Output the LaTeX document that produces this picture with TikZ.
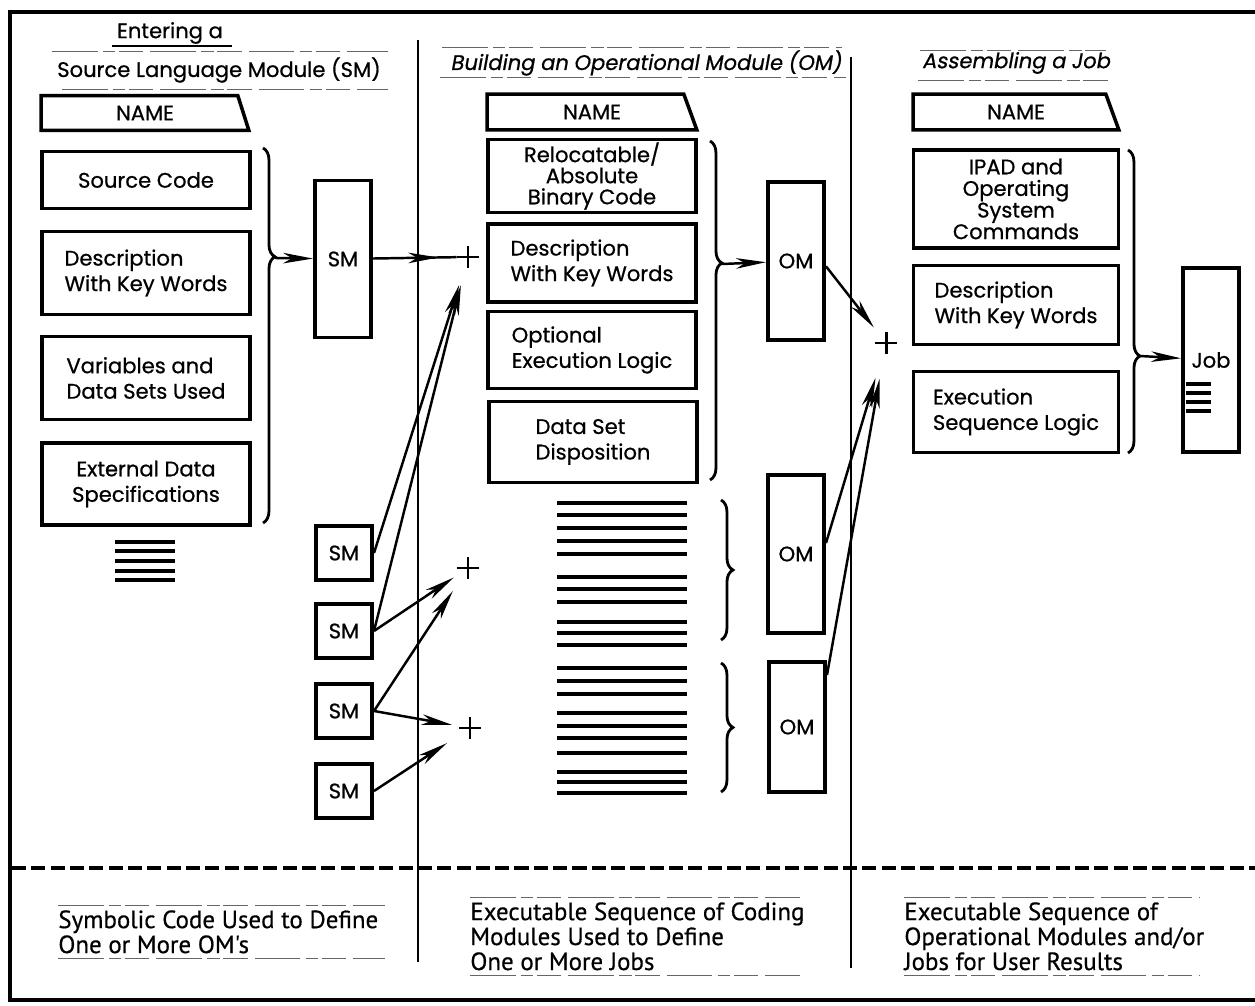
\documentclass[tikz,border=0pt]{standalone}
\usepackage{fontspec}
\setmainfont{Poppins}[FakeBold=0.7]
\newfontfamily\slantfont{Poppins}[FakeSlant=0.18, FakeBold=0.7]
\newfontfamily\notefont{PT Sans}[FakeBold=0.5]
\usetikzlibrary{arrows.meta}
\usetikzlibrary{calc, decorations.markings, decorations.pathreplacing}
\tikzset{
    tipat/.style={
        decoration={
            markings,
            mark= at position #1 with {\arrow{Stealth[length=17pt, width=6pt, inset=5pt]}},
        },
        postaction={decorate}
    },
    tipat/.default=0.5
}
\tikzset{
    modbox/.style={draw, line width=2pt, rectangle, inner sep=0pt, minimum width=4.16cm,
        align=center, font=\fontsize{12}{14.5}\selectfont},
    tallbox/.style={draw, line width=2pt, rectangle, inner sep=0pt, minimum width=1.13cm,
        font=\fontsize{12}{14.5}\selectfont},
    namebox/.style={rectangle, minimum width=4.14cm, minimum height=0.68cm, inner sep=0pt,
        font=\fontsize{12}{14.5}\selectfont},
    nameedge/.style={line width=2pt, line join=miter},
    junction/.style={rectangle, minimum size=0.44cm, inner sep=0pt,
        path picture={\draw[line width=1.7pt] (path picture bounding box.north) -- (path picture bounding box.south)
            (path picture bounding box.west) -- (path picture bounding box.east);}},
    flow/.style={line width=1.4pt, -{Stealth[length=17pt, width=6pt, inset=5pt]}},
    feed/.style={line width=1.4pt},
    curl/.style args={#1 #2}{line width=1.6pt, decorate, decoration={brace, amplitude=#1, aspect=#2}},
    hatch/.style={line width=2pt},
    guide/.style={line width=0.45pt, black!60, dash pattern=on 26pt off 3pt on 7pt off 2pt on 14pt off 4pt},
    title/.style={font=\fontsize{12}{14.5}\selectfont},
    note/.style={align=left, anchor=north west, inner sep=0pt, font=\notefont\fontsize{14.2}{14.2}\selectfont}
}

\begin{document}
\begin{tikzpicture}[x=0.02cm, y=-0.02cm]
    \useasboundingbox (0,0) rectangle (1255,1006);
    % frame, column rules and the dashed separator
    \draw[line width=2.2pt] (1255,12) -- (10,12) -- (10,1000) -- (1255,1000);
    \draw[line width=1.6pt] (418,40) -- (418,962);
    \draw[line width=1.6pt] (851,57) -- (851,968);
    \draw[line width=2.3pt, dash pattern=on 8pt off 3pt] (12,868) -- (1255,868);

    % column titles
    \node[title] (enter) at (170,33) {Entering a};
    \node[title] (slm) at (219,70) {Source Language Module (SM)};
    \node[title, font=\slantfont\fontsize{12}{14.5}\selectfont] (bom) at (646,63) {Building an Operational Module (OM)};
    \node[title, font=\slantfont\fontsize{12}{14.5}\selectfont] (asm) at (1016,63) {Assembling a Job};
    \draw[line width=0.8pt] (112,46) -- (232,46);
    \draw[guide] (52,51) -- (388,51);
    \draw[guide] (62,89) -- (388,89);
    \draw[guide] (442,47) -- (842,47);
    \draw[guide] (440,77) -- (846,77);
    \draw[guide] (920,50) -- (1106,50);
    \draw[guide] (918,80) -- (1112,80);

    % source language module
    \node[namebox] (nameL) at (145,113) {NAME};
    \draw[nameedge] (nameL.north west) -- ($(nameL.north east)+(-11,0)$) -- (nameL.south east) -- (nameL.south west) -- cycle;
    \node[modbox, minimum height=1.14cm] (srcL) at (146,180) {Source Code};
    \node[modbox, minimum height=1.66cm, align=left] (descL) at (146,273) {Description\\With Key Words};
    \node[modbox, minimum height=1.66cm, align=left] (varsL) at (146,378) {Variables and\\Data Sets Used};
    \node[modbox, minimum height=1.64cm] (extL) at (146,484) {External Data\\Specifications};
    \foreach \y in {542,551,561,571,580} \draw[hatch] (115,\y) -- (175,\y);
    \draw[curl={6.8pt 0.29}] (263,148) -- (263,523);
    \coordinate (tipL) at (275,258);

    \node[tallbox, minimum height=3.14cm] (smT) at (343,259) {SM};
    \node[tallbox, minimum height=1.08cm] (smA) at (344,553) {SM};
    \node[tallbox, minimum height=1.08cm] (smB) at (344,631) {SM};
    \node[tallbox, minimum height=1.08cm] (smC) at (344,711) {SM};
    \node[tallbox, minimum height=1.08cm] (smD) at (344,791) {SM};

    \node[junction] (j1) at (468,257) {};
    \node[junction] (j2) at (468,568) {};
    \node[junction] (j3) at (470,728) {};
    \node[junction] (j4) at (886,343) {};

    % operational module
    \node[namebox, minimum height=0.7cm, minimum width=4.18cm] (nameM) at (592,112) {NAME};
    \draw[nameedge] (nameM.north west) -- ($(nameM.north east)+(-13,0)$) -- (nameM.south east) -- (nameM.south west) -- cycle;
    \node[modbox, minimum height=1.46cm, font=\fontsize{12}{12}\selectfont] (relM) at (592,176) {Relocatable/\\Absolute\\Binary Code};
    \node[modbox, minimum height=1.56cm, align=left] (descM) at (592,263) {Description\\With Key Words};
    \node[modbox, minimum height=1.54cm, align=left] (optM) at (592,350) {Optional\\Execution Logic};
    \node[modbox, minimum height=1.62cm, align=left] (dsdM) at (593,442) {Data Set\\Disposition};
    \foreach \y in {503,515,528,541,554,577,589,602,622,633,645,668,681,694,713,726,738,753,772,782,793}
        \draw[hatch] (557,\y) -- (687,\y);
    \draw[curl={6.8pt 0.36}] (710,141) -- (710,480);
    \draw[curl={6.8pt 0.5}] (721,500) -- (721,640);
    \draw[curl={6.8pt 0.5}] (721,663) -- (721,792);
    \coordinate (tipM) at (722,264);

    \node[tallbox, minimum height=3.16cm] (om1) at (796,261) {OM};
    \node[tallbox, minimum height=3.16cm] (om2) at (796,554) {OM};
    \node[tallbox, minimum height=2.6cm] (om3) at (797,727) {OM};

    % job
    \node[namebox, minimum height=0.7cm, minimum width=4.1cm] (nameR) at (1016,112) {NAME};
    \draw[nameedge] (nameR.north west) -- ($(nameR.north east)+(-13,0)$) -- (nameR.south east) -- (nameR.south west) -- cycle;
    \node[modbox, minimum height=1.96cm, minimum width=4.1cm, font=\fontsize{12}{12.3}\selectfont] (ipadR) at (1016,199) {IPAD and\\Operating\\System\\Commands};
    \node[modbox, minimum height=1.58cm, minimum width=4.1cm, align=left] (descR) at (1016,305) {Description\\With Key Words};
    \node[modbox, minimum height=1.62cm, minimum width=4.1cm, align=left] (exeR) at (1016,412) {Execution\\Sequence Logic};
    \draw[curl={6.8pt 0.68}] (1128,150) -- (1128,453);
    \coordinate (tipR) at (1140,356);
    \node[tallbox, minimum height=3.68cm] (job) at (1211,360) {Job};
    \foreach \y in {384,393,402,411} \draw[hatch] (1186,\y) -- (1211,\y);

    % connectors
    \draw[flow] (tipL) -- (smT);
    \draw[flow] (tipM) -- (om1);
    \draw[flow] (tipR) -- (job);
    \draw[feed, tipat=0.78] (smT) -- (j1);
    \draw[flow, shorten >=10pt] (smA.east) -- (j1);
    \draw[flow, shorten >=10pt] (smB.east) -- (j1);
    \draw[flow, shorten >=2pt] (smB.east) -- (j2);
    \draw[flow, shorten >=8pt] (smC.east) -- (j2);
    \draw[flow, shorten >=4pt] (smC.east) -- (j3);
    \draw[flow, shorten >=8pt] (smD.east) -- (j3);
    \draw[flow, shorten >=3pt] (om1.-10) -- (j4);
    \draw[flow, shorten >=14pt] (om2.20) -- (j4);
    \draw[flow, shorten >=14pt] (om3.60) -- (j4);

    % remarks below the dashed line
    \node[note] (noteL) at (58,910) {Symbolic Code Used to Define\\One or More OM's};
    \node[note] (noteM) at (470,902) {Executable Sequence of Coding\\Modules Used to Define\\One or More Jobs};
    \node[note] (noteR) at (904,902) {Executable Sequence of\\Operational Modules and/or\\Jobs for User Results};
    \draw[guide] (58,905) -- (385,905);
    \draw[guide] (58,958) -- (385,958);
    \draw[guide] (470,897) -- (800,897);
    \draw[guide] (470,975) -- (800,975);
    \draw[guide] (904,897) -- (1200,897);
    \draw[guide] (904,975) -- (1200,975);
\end{tikzpicture}
\end{document}
